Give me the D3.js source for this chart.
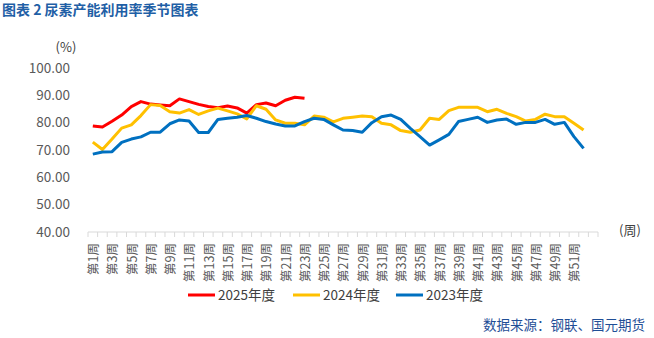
<!DOCTYPE html>
<html>
<head>
<meta charset="utf-8">
<script src="https://cdn.jsdelivr.net/npm/d3@7"></script>
<style>
  body { margin: 0; background: #fff; }
  svg { display: block; font-family: "Noto Sans CJK SC", "Noto Sans", sans-serif; }
</style>
</head>
<body>
<svg id="chart"></svg>
<script>
// weekly urea capacity utilisation (%) by year
const weeks = d3.range(1, 53).map(n => `第${n}周`);
const yTicks = [40, 50, 60, 70, 80, 90, 100];

const y2025 = [78.8, 78.4, 80.5, 82.8, 85.9, 87.7, 86.8, 86.5, 86.2, 88.7,
  87.7, 86.7, 85.9, 85.5, 86.1, 85.4, 83.5, 86.6, 87.2, 86.2,
  88.2, 89.3, 88.9];

const y2024 = [72.9, 70.2, 74.0, 78.0, 79.2, 82.6, 86.6, 86.3, 84.0, 83.5,
  84.8, 83.0, 84.3, 85.3, 84.3, 83.2, 81.4, 86.2, 84.9, 81.0,
  79.8, 79.8, 79.2, 82.4, 82.0, 80.3, 81.6, 82.0, 82.4, 82.2,
  79.8, 79.2, 77.1, 76.5, 77.3, 81.6, 81.2, 84.4, 85.6, 85.6,
  85.6, 84.0, 84.9, 83.4, 82.2, 80.6, 81.2, 83.1, 82.2, 82.2,
  79.8, 77.3];

const y2023 = [68.5, 69.3, 69.4, 72.8, 74.0, 74.8, 76.5, 76.5, 79.6, 81.0,
  80.6, 76.4, 76.4, 81.2, 81.6, 82.0, 82.6, 81.6, 80.4, 79.5,
  78.8, 78.8, 80.4, 81.6, 81.2, 79.2, 77.3, 77.1, 76.5, 80.0,
  82.2, 82.8, 81.2, 77.9, 74.9, 71.8, 73.7, 75.7, 80.4, 81.2,
  82.0, 80.1, 81.0, 81.3, 79.4, 80.1, 80.1, 81.2, 79.4, 80.1,
  74.9, 70.6];

const series = [
  { name: '2025年度', values: y2025, color: '#ff0000' },
  { name: '2024年度', values: y2024, color: '#ffc000' },
  { name: '2023年度', values: y2023, color: '#0070c0' }
];

const W = 654, H = 338;
const svg = d3.select('#chart').attr('width', W).attr('height', H);

// one spare slot after week 52, like the original axis
const x = d3.scaleBand().domain(d3.range(53)).range([88, 598]);
const y = d3.scaleLinear().domain([40, 100]).range([232, 68]);

// title
svg.append('text')
  .attr('x', 2).attr('y', 10)
  .attr('dy', '0.35em')
  .attr('font-size', 14).attr('font-weight', 'bold')
  .attr('fill', '#1f5fa6')
  .text('图表 2  尿素产能利用率季节图表');

svg.append('text')
  .attr('x', 66).attr('y', 52)
  .attr('text-anchor', 'middle')
  .attr('font-size', 13).attr('fill', '#404040')
  .text('(%)');

// y axis labels
svg.append('g')
  .selectAll('text')
  .data(yTicks)
  .enter().append('text')
  .attr('x', 70)
  .attr('y', d => y(d))
  .attr('dy', '0.35em')
  .attr('text-anchor', 'end')
  .attr('font-size', 13.5)
  .attr('fill', '#595959')
  .text(d => d.toFixed(2));

// x axis line and tick marks between categories
const xAxis = svg.append('g');
xAxis.append('line')
  .attr('x1', 88).attr('x2', 598)
  .attr('y1', y(40)).attr('y2', y(40))
  .attr('stroke', '#d9d9d9').attr('stroke-width', 1);

xAxis.selectAll('line.tick')
  .data(d3.range(54))
  .enter().append('line')
  .attr('class', 'tick')
  .attr('x1', i => 88 + i * x.step()).attr('x2', i => 88 + i * x.step())
  .attr('y1', y(40)).attr('y2', y(40) + 5)
  .attr('stroke', '#d9d9d9');

xAxis.selectAll('text')
  .data(weeks.filter((w, i) => i % 2 === 0))
  .enter().append('text')
  .attr('transform', (d, i) => {
    const cx = x(i * 2) + x.bandwidth() / 2;
    return `translate(${cx + 1},243) rotate(-90)`;
  })
  .attr('dy', '0.35em')
  .attr('text-anchor', 'end')
  .attr('font-size', 12.5)
  .attr('fill', '#595959')
  .text(d => d);

svg.append('text')
  .attr('x', 630).attr('y', 230)
  .attr('dy', '0.35em')
  .attr('text-anchor', 'middle')
  .attr('font-size', 13).attr('fill', '#404040')
  .text('(周)');

// lines
const line = d3.line()
  .x((d, i) => x(i) + x.bandwidth() / 2)
  .y(d => y(d));

svg.append('g')
  .selectAll('path')
  .data(series)
  .enter().append('path')
  .attr('d', d => line(d.values))
  .attr('fill', 'none')
  .attr('stroke', d => d.color)
  .attr('stroke-width', 3)
  .attr('stroke-linejoin', 'round');

// legend
const legendX = [188, 293, 396];
const legend = svg.append('g')
  .selectAll('g')
  .data(series)
  .enter().append('g')
  .attr('transform', (d, i) => `translate(${legendX[i]},295)`);

legend.append('line')
  .attr('x1', 0).attr('x2', 27)
  .attr('stroke', d => d.color)
  .attr('stroke-width', 3);

legend.append('text')
  .attr('x', 30)
  .attr('dy', '0.35em')
  .attr('font-size', 13.5)
  .attr('fill', '#404040')
  .text(d => d.name);

// source note
svg.append('text')
  .attr('x', 645).attr('y', 325)
  .attr('dy', '0.35em')
  .attr('text-anchor', 'end')
  .attr('font-size', 13.5)
  .attr('fill', '#1f4e96')
  .text('数据来源：钢联、国元期货');
</script>
</body>
</html>
